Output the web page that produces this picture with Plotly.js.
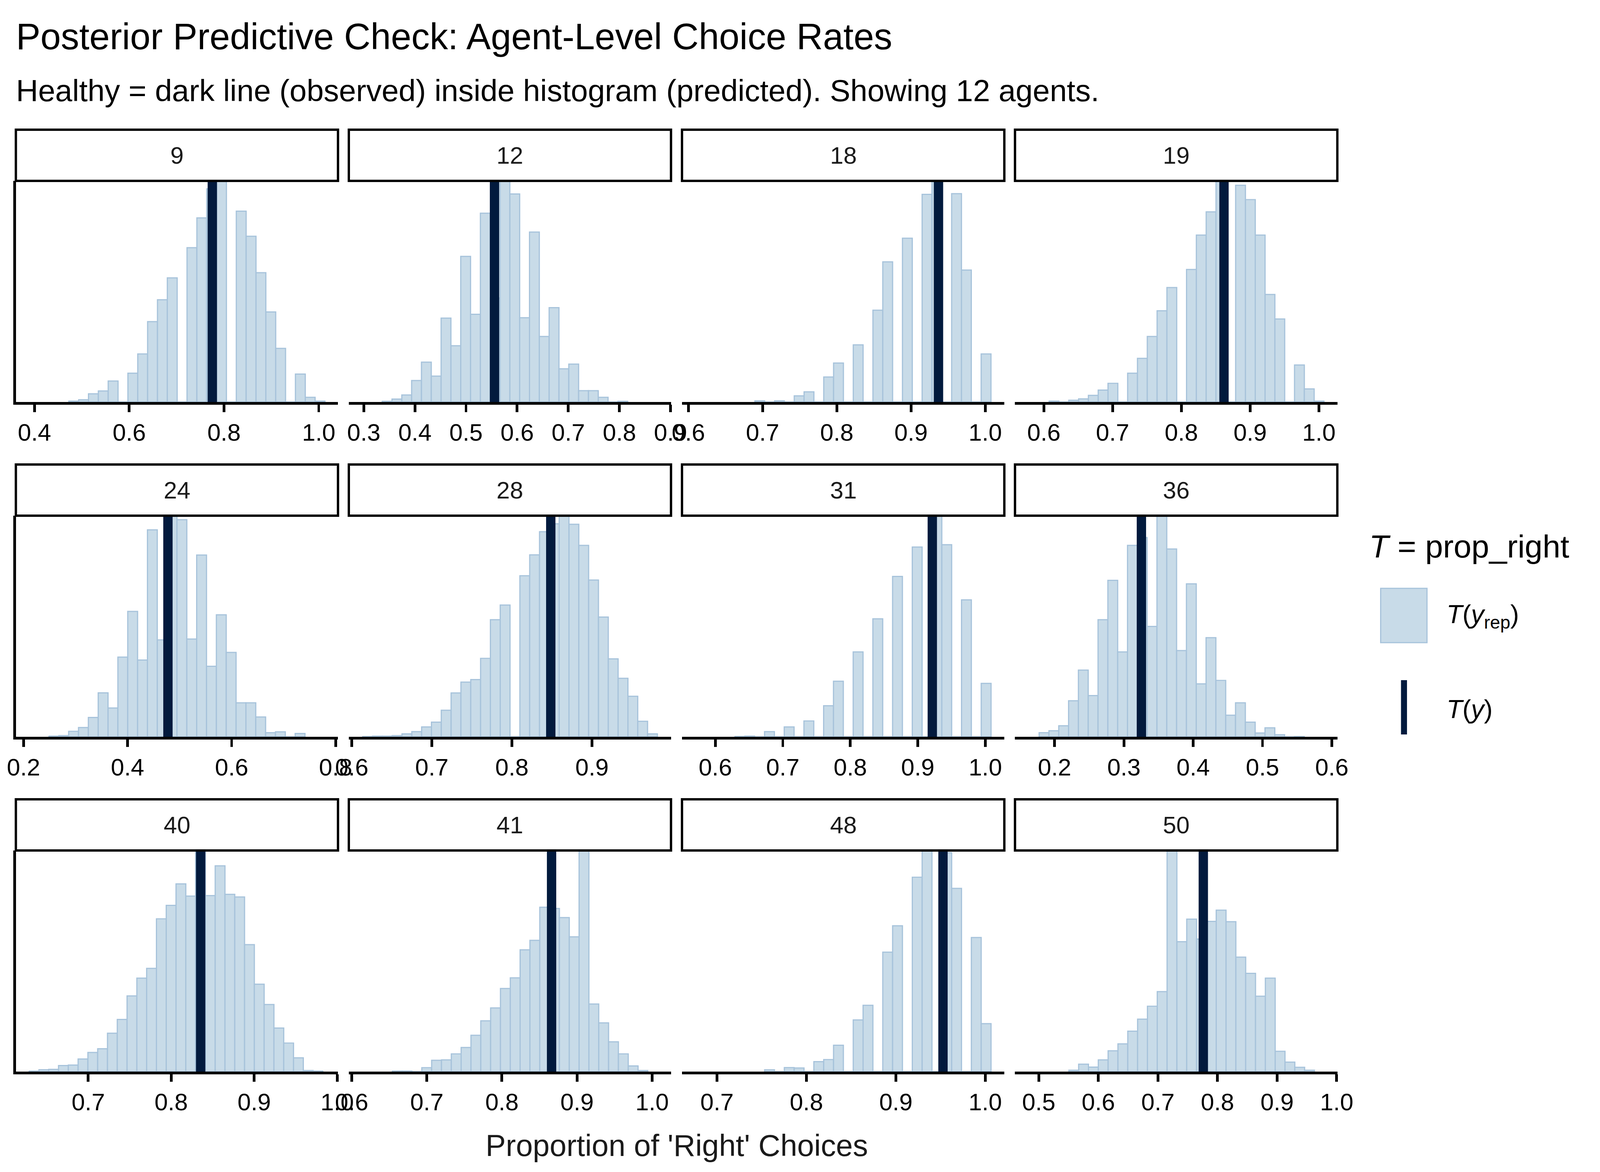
<!DOCTYPE html>
<html><head><meta charset="utf-8">
<script src="https://cdn.plot.ly/plotly-3.0.1.min.js"></script>
<style>html,body{margin:0;padding:0;background:#fff;overflow:hidden}</style>
</head><body><div id="chart"></div>
<script>
// ---------------- DATA ----------------
const agents = ["9","12","18","19","24","28","31","36","40","41","48","50"];
// observed statistic T(y) per agent
const observed = [0.7754,0.5557,0.937,0.862,0.4776,0.8485,0.9215,0.3253,0.8355,0.8661,0.9527,0.7762];
// histogram bin layout per agent (left edge of first drawn bin, bin width)
const binStart = [0.4724,0.3360,0.6896,0.6077,0.2489,0.6137,0.6292,0.1777,0.6288,0.6541,0.7533,0.5505];
const binWidth = [0.0208,0.01921,0.013255,0.014274,0.01893,0.012264,0.01459,0.01417,0.0118,0.013086,0.011006,0.01649];
// predicted counts T(yrep) per bin (relative units)
const counts_9  = [5,13,47,63,120,0,165,275,460,585,710,0,883,1053,1220,1265,0,1092,948,740,515,307,0,160,27,5];
const counts_12 = [4,17,40,123,228,148,480,322,833,502,1080,595,1265,1190,482,972,375,540,190,217,65,65,27,0,4];
const counts_18 = [7,0,7,0,35,58,0,143,223,0,327,0,525,802,0,937,0,1188,1265,0,1192,755,0,275];
const counts_19 = [5,0,10,18,38,68,107,0,165,250,375,522,655,0,758,955,1088,1265,0,1240,1158,955,615,475,0,212,75,5];
const counts_24 = [4,7,32,54,112,255,167,462,727,445,1200,562,1282,1259,567,1054,409,707,489,197,197,115,24,29,0,19];
const counts_28 = [2,4,4,7,17,30,57,85,154,254,317,332,455,679,764,0,934,1055,1189,1235,1282,1232,1110,909,694,452,339,235,90,17];
const counts_31 = [2,4,0,30,0,57,0,92,0,180,322,0,492,0,684,0,930,0,1100,0,1282,1114,0,794,0,310];
const counts_36 = [24,35,64,209,387,239,679,907,492,1110,1155,640,1282,1089,500,887,307,575,327,125,197,85,22,52,12,0,2];
const counts_40 = [3,11,13,35,38,73,111,133,223,303,440,543,600,888,966,1091,1020,1285,1023,1196,1030,1015,738,508,390,253,166,80,6,3];
const counts_41 = [3,3,0,23,66,68,103,140,211,295,370,483,545,708,763,955,948,895,783,1285,393,283,173,103,33,6];
const counts_48 = [10,0,23,21,0,58,70,153,0,300,385,0,693,846,0,1128,1283,0,1270,1063,0,778,278];
const counts_50 = [8,43,26,68,121,161,235,305,380,465,1285,755,886,770,873,938,871,665,571,438,543,118,55,25,8];
const allCounts = [counts_9,counts_12,counts_18,counts_19,counts_24,counts_28,counts_31,counts_36,counts_40,counts_41,counts_48,counts_50];
// x-axis view per panel and tick step
const xRanges = [[0.3607,1.0407],[0.2708,0.9009],[0.5914,1.0257],[0.5581,1.0268],
                 [0.1853,0.8045],[0.5964,0.9986],[0.5507,1.0282],[0.1429,0.608],
                 [0.6128,1.001],[0.5962,1.0251],[0.6609,1.0213],[0.4602,1.0011]];
const tickStep = [0.2,0.1,0.1,0.1,0.2,0.1,0.1,0.1,0.1,0.1,0.1,0.1];

// ---------------- STYLE ----------------
const RW = 4800, RH = 3000;                       // reference frame
let W = window.innerWidth || RW, H = window.innerHeight || RH;
if (W < 100 || H < 100) { W = RW; H = RH; }
const sf = Math.min(W/RW, H/RH);                  // scale for sizes
const el = document.getElementById("chart");
el.style.width = W + "px"; el.style.height = H + "px";

const FONT = "Liberation Sans, Arial, sans-serif";
const FILL = "#c8dbe8", OUTLINE = "#a7c3db", DARK = "#021a3d";
const colX = [[47.6,1014],[1046.5,2013],[2046,3013],[3045,4012]];
const rowY = [[463,1029],[1320,1886],[2177,2743]];
const stripH = 131;
const px = v => v*sf;

const traces = [], shapes = [], annotations = [];
const layout = {
  width: W, height: H, margin:{l:0,r:0,t:0,b:0},
  paper_bgcolor:"#fff", plot_bgcolor:"#fff", showlegend:false,
  font:{family:FONT,color:"#000"}, bargap:0
};

agents.forEach((ag, i) => {
  const n = i + 1, r = Math.floor(i/4), c = i % 4;
  const xa = "xaxis" + (n===1?"":n), ya = "yaxis" + (n===1?"":n);
  const xr = "x" + (n===1?"":n), yr = "y" + (n===1?"":n);
  const cnt = allCounts[i];
  const centers = cnt.map((_, k) => binStart[i] + binWidth[i]*(k+0.5));
  traces.push({type:"bar", x:centers, y:cnt, width:binWidth[i], xaxis:xr, yaxis:yr,
    marker:{color:FILL, line:{color:OUTLINE, width:px(3.5)}}, hoverinfo:"skip"});
  layout[xa] = {domain:[colX[c][0]/RW, colX[c][1]/RW], anchor:yr, range:xRanges[i],
    showline:true, linecolor:"#000", linewidth:px(8), ticks:"outside", ticklen:px(22), tickwidth:px(8),
    tickcolor:"#000", tickmode:"linear", tick0:0, dtick:tickStep[i], tickformat:".1f",
    tickfont:{family:FONT,size:px(72),color:"#000"}, showgrid:false, zeroline:false};
  layout[ya] = {domain:[1-rowY[r][1]/RH, 1-rowY[r][0]/RH], anchor:xr,
    range:[0, Math.max(...cnt)], showticklabels:false, ticks:"", showgrid:false,
    zeroline:false, showline:(c===0), linecolor:"#000", linewidth:px(8)};
  shapes.push({type:"line", xref:xr, yref:yr+" domain", x0:observed[i], x1:observed[i],
    y0:0, y1:1, line:{color:DARK, width:px(28)}});
  const sh = stripH/(rowY[r][1]-rowY[r][0]);
  shapes.push({type:"rect", xref:xr+" domain", yref:yr+" domain", x0:0, x1:1, y0:1, y1:1+sh,
    line:{color:"#000", width:px(7)}, fillcolor:"#fff"});
  annotations.push({xref:xr+" domain", yref:yr+" domain", x:0.5, y:1+sh/2, text:ag,
    showarrow:false, xanchor:"center", yanchor:"middle", font:{family:FONT,size:px(72),color:"#1a1a1a"}});
});

annotations.push({xref:"paper", yref:"paper", x:46/RW, y:1-93/RH, xanchor:"left", yanchor:"middle",
  text:"Posterior Predictive Check: Agent-Level Choice Rates", showarrow:false,
  font:{family:FONT,size:px(110),color:"#000"}});
annotations.push({xref:"paper", yref:"paper", x:46/RW, y:1-232/RH, xanchor:"left", yanchor:"middle",
  text:"Healthy = dark line (observed) inside histogram (predicted). Showing 12 agents.", showarrow:false,
  font:{family:FONT,size:px(92),color:"#000"}});
annotations.push({xref:"paper", yref:"paper", x:2030/RW, y:1-2932/RH, xanchor:"center", yanchor:"middle",
  text:"Proportion of 'Right' Choices", showarrow:false, font:{family:FONT,size:px(91),color:"#1a1a1a"}});
// legend (drawn by hand to match the reference layout)
annotations.push({xref:"paper", yref:"paper", x:4105/RW, y:1-1398/RH, xanchor:"left", yanchor:"middle",
  text:"<i>T</i> = prop_right", showarrow:false, font:{family:FONT,size:px(96),color:"#000"}});
shapes.push({type:"rect", xref:"paper", yref:"paper", x0:4142/RW, x1:4281/RW, y0:1-1645/RH, y1:1-1506/RH,
  fillcolor:FILL, line:{color:OUTLINE, width:px(3.5)}});
shapes.push({type:"rect", xref:"paper", yref:"paper", x0:4203/RW, x1:4221/RW, y0:1-1880/RH, y1:1-1741/RH,
  fillcolor:DARK, line:{width:0}});
annotations.push({xref:"paper", yref:"paper", x:4337/RW, y:1-1577/RH, xanchor:"left", yanchor:"middle",
  text:"<i>T</i>(<i>y</i><sub>rep</sub>)", showarrow:false, font:{family:FONT,size:px(78),color:"#000"}});
annotations.push({xref:"paper", yref:"paper", x:4337/RW, y:1-1815/RH, xanchor:"left", yanchor:"middle",
  text:"<i>T</i>(<i>y</i>)", showarrow:false, font:{family:FONT,size:px(78),color:"#000"}});

layout.shapes = shapes; layout.annotations = annotations;
Plotly.newPlot("chart", traces, layout, {displayModeBar:false, staticPlot:true});
</script></body></html>
